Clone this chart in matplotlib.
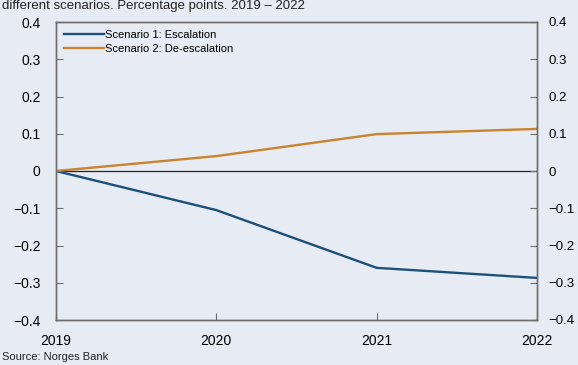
import matplotlib
matplotlib.use("Agg")
import matplotlib.pyplot as plt
from matplotlib.ticker import FixedLocator, FuncFormatter

plt.rcParams['font.family'] = ['Liberation Sans', 'DejaVu Sans']

years = [2019, 2020, 2021, 2022]
escalation = [0.0, -0.105, -0.26, -0.287]
de_escalation = [0.0, 0.040, 0.099, 0.113]
y_ticks = [-0.4, -0.3, -0.2, -0.1, 0, 0.1, 0.2, 0.3, 0.4]

bg = '#e7ebf3'
blue = '#1d5078'
orange = '#c8842e'
spine = '#6e6e6e'

fig = plt.figure(figsize=(5.78, 3.65), dpi=100, facecolor=bg)
ax = fig.add_axes([56/578, 1 - 320/365, (537-56)/578, (320-22)/365])
ax.set_facecolor(bg)

ax.axhline(0, color='#222222', lw=0.9, zorder=1)
ax.plot(years, escalation, color=blue, lw=1.7, label='Scenario 1: Escalation', zorder=3)
ax.plot(years, de_escalation, color=orange, lw=1.7, label='Scenario 2: De-escalation', zorder=3)

ax.set_xlim(2019, 2022)
ax.set_ylim(-0.4, 0.4)
ax.xaxis.set_major_locator(FixedLocator(years))
ax.yaxis.set_major_locator(FixedLocator(y_ticks))

def fmt(v, pos):
    if abs(v) < 1e-9:
        return '0'
    return f'{v:.1f}'.replace('-', '\u2212')

ax.yaxis.set_major_formatter(FuncFormatter(fmt))
ax.tick_params(axis='y', direction='in', length=5, width=0.8, color=spine,
               labelsize=10, left=True, right=False, pad=11)
ax.tick_params(axis='x', direction='in', length=5, width=0.8, color=spine,
               labelsize=10, pad=10)
for s in ax.spines.values():
    s.set_color(spine)
    s.set_linewidth(1.0)

# Mirrored scale on the right-hand side
ax_r = ax.twinx()
ax_r.set_ylim(ax.get_ylim())
ax_r.yaxis.set_major_locator(FixedLocator(y_ticks))
ax_r.yaxis.set_major_formatter(FuncFormatter(fmt))
ax_r.tick_params(axis='y', direction='in', length=5, width=0.8, color=spine,
                 labelsize=9.5, pad=8.5)
for s in ax_r.spines.values():
    s.set_color(spine)
    s.set_linewidth(1.0)

ax.legend(loc='upper left', frameon=False, fontsize=8, handlelength=3.6,
          handletextpad=0.1, labelspacing=0.35, borderaxespad=0.3,
          bbox_to_anchor=(0.0, 1.0))

fig.text(2/578, 1.0, 'different scenarios. Percentage points. 2019 \u2013 2022',
         fontsize=9.5, va='top', ha='left', color='#222222')
fig.text(2/578, 3/365, 'Source: Norges Bank', fontsize=8, va='bottom', ha='left', color='#222222')

fig.savefig('out.png', dpi=100, facecolor=bg)
